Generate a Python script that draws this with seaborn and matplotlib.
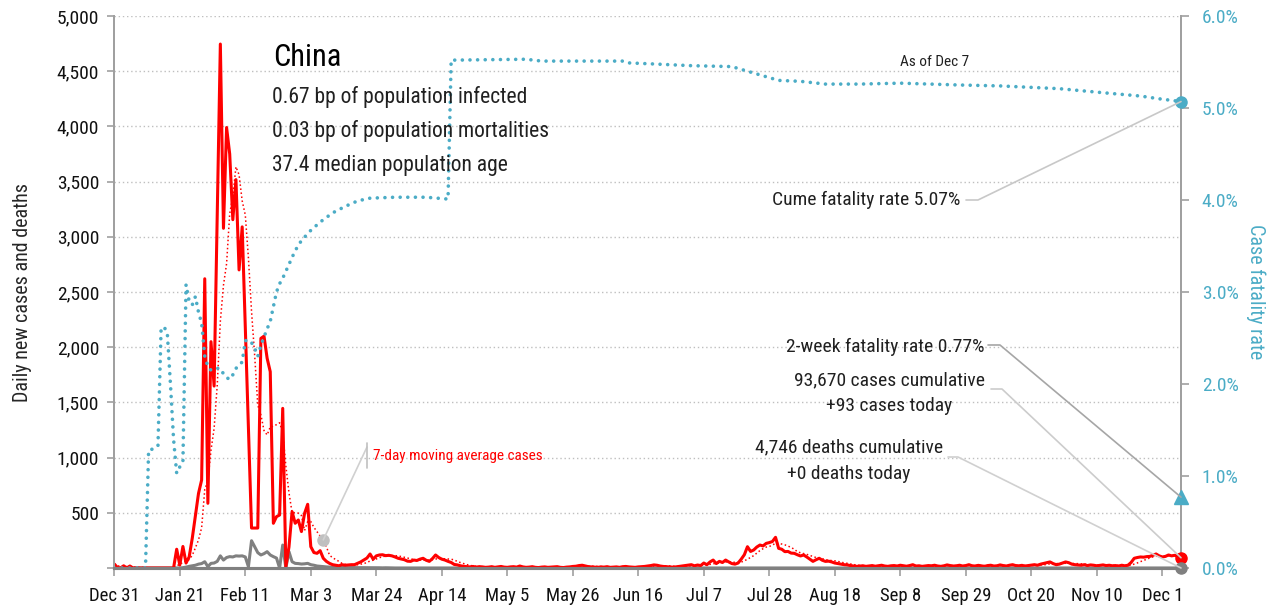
import numpy as np
import pandas as pd
import matplotlib
matplotlib.use("Agg")
import matplotlib.pyplot as plt
import matplotlib.dates as mdates
import seaborn as sns
from matplotlib import font_manager as fm
from matplotlib.lines import Line2D

# daily values from Dec 31, 2019 to Dec 7, 2020
start = pd.Timestamp("2019-12-31")
daily_cases = [
    36, 5, 0, 20, 0, 18, 0, 0, 0, 0,
    0, 0, 0, 0, 0, 0, 0, 0, 0, 0,
    170, 27, 195, 45, 100, 270, 470, 676, 797, 2620,
    586, 2050, 1648, 3200, 4746, 3077, 3990, 3750, 3155, 3518,
    2700, 3090, 2180, 1270, 362, 362, 362, 2080, 2100, 1900,
    1778, 405, 465, 480, 1446, 12, 190, 510, 405, 435,
    330, 495, 577, 193, 140, 133, 157, 88, 60, 42,
    30, 25, 20, 30, 25, 28, 30, 30, 42, 55,
    72, 90, 127, 80, 110, 118, 120, 112, 115, 110,
    100, 88, 82, 75, 62, 60, 72, 68, 80, 88,
    70, 60, 85, 118, 95, 80, 72, 60, 50, 32,
    28, 20, 15, 12, 10, 14, 8, 12, 10, 6,
    8, 12, 6, 10, 14, 8, 6, 10, 12, 8,
    18, 10, 6, 8, 12, 6, 4, 8, 10, 6,
    8, 10, 12, 6, 4, 8, 10, 14, 16, 22,
    25, 18, 12, 10, 8, 6, 10, 8, 12, 6,
    8, 10, 6, 12, 14, 10, 8, 6, 10, 12,
    14, 18, 22, 28, 25, 18, 14, 12, 10, 8,
    10, 14, 18, 22, 25, 30, 20, 27, 22, 45,
    30, 55, 72, 40, 60, 50, 72, 55, 40, 35,
    45, 80, 120, 193, 150, 163, 190, 208, 200, 223,
    230, 240, 278, 178, 170, 148, 150, 135, 133, 120,
    109, 118, 100, 80, 60, 75, 88, 70, 60, 62,
    55, 45, 40, 35, 30, 28, 22, 18, 15, 18,
    20, 15, 18, 22, 16, 20, 25, 18, 15, 20,
    22, 18, 25, 20, 16, 22, 30, 18, 20, 15,
    18, 22, 20, 25, 18, 15, 20, 28, 22, 18,
    20, 25, 18, 22, 30, 20, 18, 24, 20, 15,
    22, 25, 18, 20, 28, 22, 18, 25, 30, 22,
    20, 24, 18, 22, 26, 30, 25, 35, 42, 48,
    55, 40, 30, 35, 45, 55, 48, 35, 30, 28,
    25, 30, 22, 28, 25, 20, 24, 28, 22, 25,
    20, 22, 18, 25, 20, 25, 50, 88, 95, 100,
    98, 103, 105, 115, 127, 110, 100, 105, 118, 110,
    115, 105, 93,
]
# deaths through Mar 29; read as zero afterwards
daily_deaths_early = [
    0, 0, 0, 0, 0, 0, 0, 0, 0, 0,
    0, 0, 0, 0, 0, 0, 0, 0, 0, 0,
    0, 0, 3, 8, 15, 20, 25, 35, 40, 57,
    12, 42, 45, 60, 110, 72, 95, 103, 100, 110,
    108, 110, 100, 12, 247, 193, 139, 118, 130, 148,
    118, 103, 90, 0, 208, 0, 148, 57, 42, 40,
    36, 38, 42, 30, 25, 18, 15, 12, 10, 8,
    6, 5, 5, 4, 4, 3, 4, 3, 3, 3,
    3, 2, 3, 2, 2, 2, 1, 2, 1, 1,
]
# cumulative case fatality rate (%), day offsets from Dec 31
cfr_days = [0, 10, 11, 12, 13, 14, 15, 16, 17, 18, 19, 20, 21, 22, 23, 24, 25,
            26, 27, 28, 29, 30, 31, 32, 33, 34, 35, 36, 37, 38, 39, 40, 41,
            42, 43, 44, 45, 46, 47, 48, 49, 50, 51, 52, 53, 54, 56, 58, 60,
            63, 66, 70, 74, 78, 82, 90, 100, 107, 108, 132, 137, 163, 165,
            172, 185, 198, 201, 205, 210, 213, 220, 228, 239, 252, 271, 284,
            303, 319, 329, 335, 342]
cfr_pct = [0, 0, 1.28, 1.29, 1.30, 1.33, 2.60, 2.62, 2.55, 2.00, 1.40, 1.03,
           1.10, 1.15, 3.08, 2.90, 2.86, 2.95, 2.78, 2.66, 2.30, 2.19, 2.15,
           2.16, 2.17, 2.17, 2.11, 2.07, 2.05, 2.10, 2.17, 2.20, 2.24, 2.47,
           2.48, 2.45, 2.39, 2.30, 2.42, 2.51, 2.60, 2.68, 2.84, 3.00, 3.09,
           3.15, 3.30, 3.45, 3.56, 3.67, 3.76, 3.86, 3.93, 3.99, 4.02, 4.03,
           4.03, 4.01, 5.52, 5.53, 5.51, 5.51, 5.49, 5.48, 5.46, 5.45, 5.42,
           5.38, 5.33, 5.30, 5.29, 5.26, 5.26, 5.27, 5.25, 5.24, 5.21, 5.16,
           5.13, 5.10, 5.07]
two_week_cfr = 0.77
tick_labels = ["Dec 31", "Jan 21", "Feb 11", "Mar 3", "Mar 24", "Apr 14",
               "May 5", "May 26", "Jun 16", "Jul 7", "Jul 28", "Aug 18",
               "Sep 8", "Sep 29", "Oct 20", "Nov 10", "Dec 1"]
info_lines = ["0.67 bp of population infected",
              "0.03 bp of population mortalities",
              "37.4 median population age"]

RED = "#ff0000"
GRAY = "#808080"
TEAL = "#4bacc6"
W, H = 1276, 610


def pick_font():
    fonts = fm.fontManager.ttflist
    names = {f.name for f in fonts}
    for cand in ["Roboto Condensed", "Liberation Sans Narrow", "Open Sans Condensed"]:
        if cand in names:
            return cand, "normal"
    if any(f.name == "DejaVu Sans" and f.stretch == "condensed" for f in fonts):
        return "DejaVu Sans", "condensed"
    return "Liberation Sans", "normal"


sns.set_theme(style="white")
font, stretch = pick_font()
plt.rcParams["font.family"] = [font, "DejaVu Sans"]
plt.rcParams["font.stretch"] = stretch

n = len(daily_cases)
dates = pd.date_range(start, periods=n, freq="D")
deaths = daily_deaths_early + [0] * (n - len(daily_deaths_early))
df = pd.DataFrame({"date": dates, "cases": daily_cases, "deaths": deaths})
df["ma"] = df["cases"].rolling(7, min_periods=1).mean()
cfr = pd.DataFrame({"date": start + pd.to_timedelta(cfr_days, unit="D"), "cfr": cfr_pct})

fig = plt.figure(figsize=(W / 100, H / 100), dpi=100)
ax = fig.add_axes([114.3 / W, 1 - 568 / H, (1181 - 114.3) / W, (568 - 16) / H])
ax2 = ax.twinx()

for y in range(500, 5001, 500):
    ax.axhline(y, color="#bfbfbf", lw=1, ls=(0, (1, 2)), zorder=0)

sns.lineplot(data=df, x="date", y="ma", color=RED, lw=1.1, ls=":", ax=ax)
sns.lineplot(data=df, x="date", y="deaths", color=GRAY, lw=2.2, ax=ax)
sns.lineplot(data=df, x="date", y="cases", color=RED, lw=2.2, ax=ax)
sns.lineplot(data=cfr, x="date", y="cfr", color=TEAL, lw=2.6,
             ls=(0, (0.01, 2.1)), dash_capstyle="round", ax=ax2)

last = dates[-1]
ax.set_xlim(start, last)
ax.set_ylim(0, 5000)
ax2.set_ylim(0, 6)
ax.set_yticks(range(0, 5001, 500))
ax.set_yticklabels([""] + [f"{v:,}" for v in range(500, 5001, 500)])
ax2.set_yticks(range(0, 7))
ax2.set_yticklabels([f"{v:.1f}%" for v in range(0, 7)])
ticks = [start + pd.Timedelta(days=21 * k) for k in range(len(tick_labels))]
ax.set_xticks(ticks)
ax.set_xticklabels(tick_labels)
ax.set_xlabel("")
ax.set_ylabel("Daily new cases and deaths", fontsize=14.5)
ax.yaxis.set_label_coords(-0.077, 0.5)
ax2.set_ylabel("Case fatality rate", fontsize=14.5, color=TEAL, rotation=270, va="center")
ax2.yaxis.set_label_coords(1.070, 0.5)

ax.tick_params(axis="x", length=6, width=1.2, color="#a0a0a0", labelsize=13.5, pad=8,
               bottom=True, labelcolor="#111111")
ax.tick_params(axis="y", length=5, width=1.2, color="#a0a0a0", labelsize=14, pad=6,
               left=True, labelcolor="#111111")
ax2.tick_params(axis="y", length=6, width=1.2, color="#a0a0a0", labelsize=14, pad=9,
                labelcolor=TEAL, right=True)
for a in (ax, ax2):
    a.spines["top"].set_visible(False)
    a.spines["left"].set_color("#a0a0a0")
    a.spines["right"].set_color("#a0a0a0")
    a.spines["left"].set_linewidth(1.4)
    a.spines["right"].set_linewidth(1.4)
    a.spines["bottom"].set_color("#808080")
    a.spines["bottom"].set_linewidth(2.2)

# end markers
ax2.plot([last], [cfr_pct[-1]], "o", color=TEAL, ms=8, clip_on=False, zorder=10)
ax2.plot([last], [two_week_cfr], "^", color=TEAL, ms=10, clip_on=False, zorder=10)
ax2.plot([last], [daily_cases[-1] / 5000 * 6], "o", color=RED, ms=8, clip_on=False, zorder=10)
ax2.plot([last], [deaths[-1]], "o", color=GRAY, ms=8, clip_on=False, zorder=10)

# marker on the moving average
ma_day = 67
ax.plot([dates[ma_day]], [df["ma"][ma_day]], "o", color="#c0c0c0", ms=8, zorder=6)

fig.canvas.draw()


def disp(a, x, y):
    return a.transData.transform((mdates.date2num(x), y))


def px(x, y):
    return x / W, 1 - y / H


def leader(points, color):
    xs = [p[0] for p in points]
    ys = [p[1] for p in points]
    fig.add_artist(Line2D(xs, ys, transform=None, color=color, lw=1.2, zorder=5))


def fromref(x, y):
    return (x, H - y)


leader([fromref(966, 200), fromref(978, 200), disp(ax2, last, cfr_pct[-1])], "#c8c8c8")
leader([fromref(988, 345), fromref(1000, 345), disp(ax2, last, two_week_cfr)], "#a6a6a6")
leader([fromref(991, 389), fromref(1002, 389), disp(ax, last, daily_cases[-1])], "#cccccc")
leader([fromref(948, 457), fromref(958, 457), disp(ax, last, deaths[-1])], "#d0d0d0")
ma_pt = disp(ax, dates[ma_day], df["ma"][ma_day])
leader([ma_pt, fromref(367, 447)], "#d0d0d0")
leader([fromref(367, 443), fromref(367, 468)], "#c0c0c0")

fig.text(*px(273, 57), "China", fontsize=22, va="center", color="black")
for i, line in enumerate(info_lines):
    fig.text(*px(272, 97 + 34.5 * i), line, fontsize=15.5, va="center", color="#202020")
fig.text(*px(935, 62), "As of Dec 7", fontsize=11, ha="center", va="center", color="#202020")
fig.text(*px(960, 200), "Cume fatality rate 5.07%", fontsize=14, ha="right", va="center", color="#202020")
fig.text(*px(984, 347), "2-week fatality rate 0.77%", fontsize=14, ha="right", va="center", color="#202020")
fig.text(*px(889, 380), "93,670 cases cumulative", fontsize=14, ha="center", va="center", color="#202020")
fig.text(*px(889, 406), "+93 cases today", fontsize=14, ha="center", va="center", color="#202020")
fig.text(*px(849, 447), "4,746 deaths cumulative", fontsize=14, ha="center", va="center", color="#202020")
fig.text(*px(849, 474), "+0 deaths today", fontsize=14, ha="center", va="center", color="#202020")
fig.text(*px(373, 456), "7-day moving average cases", fontsize=11, va="center", color=RED)

fig.savefig("out.png", dpi=100)
